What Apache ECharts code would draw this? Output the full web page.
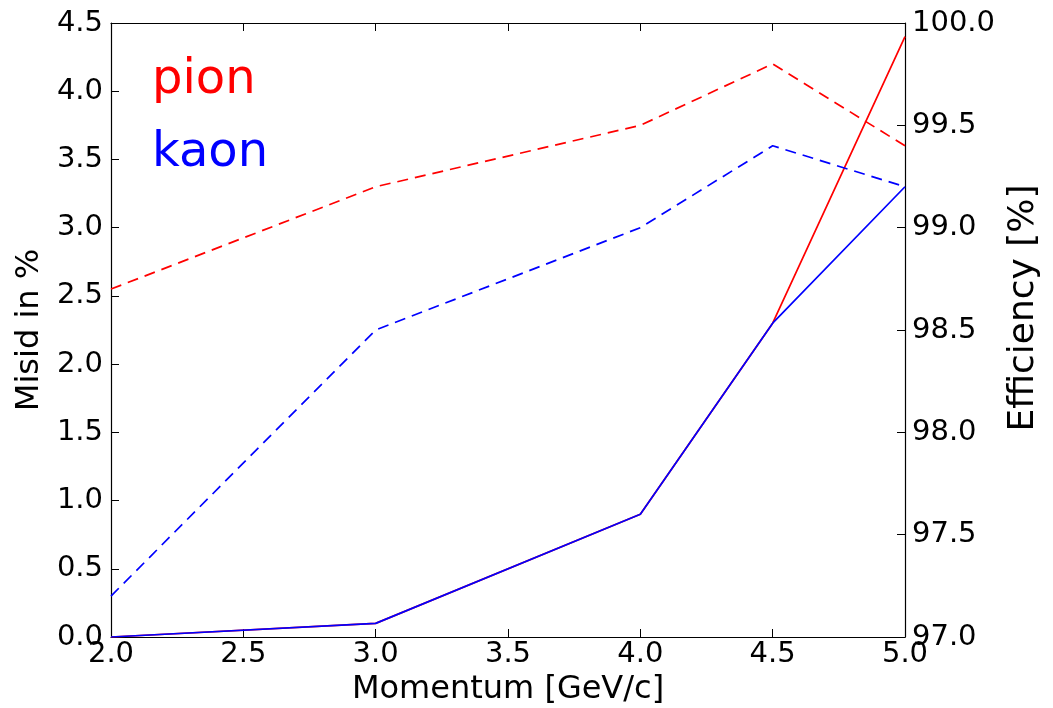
<!DOCTYPE html>
<html>
<head>
<meta charset="utf-8">
<script src="https://cdn.jsdelivr.net/npm/echarts@6/dist/echarts.min.js"></script>
<style>
  html, body { margin: 0; padding: 0; background: #fff; }
  #chart { width: 1053px; height: 708px; }
</style>
</head>
<body>
<div id="chart"></div>
<script>
// momentum points [GeV/c]
const momentum = [2.0, 3.0, 4.0, 4.5, 5.0]
// misid in % (left axis)
const pionMisid = [0.0, 0.1, 0.9, 2.3, 4.4]
const kaonMisid = [0.0, 0.1, 0.9, 2.3, 3.3]
// efficiency in % (right axis)
const pionEff = [98.7, 99.2, 99.5, 99.8, 99.4]
const kaonEff = [97.2, 98.5, 99.0, 99.4, 99.2]

const font = 'DejaVu Sans, sans-serif'
const pairs = (ys) => momentum.map((x, i) => [x, ys[i]])

const chart = echarts.init(document.getElementById('chart'))

const tickLabel = { color: '#000', fontSize: 29, fontFamily: font, formatter: (v) => v.toFixed(1) }
const axisLine = { show: true, lineStyle: { color: '#000', width: 1.2 } }
const tick = { show: true, inside: true, length: 8, lineStyle: { color: '#000', width: 1 } }

chart.setOption({
  animation: false,
  grid: { left: 111, right: 148, top: 23, bottom: 71, outerBoundsMode: 'none' },
  xAxis: [
    {
      type: 'value', min: 2, max: 5, interval: 0.5, position: 'bottom',
      name: 'Momentum [GeV/c]', nameLocation: 'middle', nameGap: 33,
      nameTextStyle: { color: '#000', fontSize: 32, fontFamily: font },
      axisLine, axisTick: tick, splitLine: { show: false },
      axisLabel: { ...tickLabel, margin: 3 },
    },
    {
      type: 'value', min: 2, max: 5, interval: 0.5, position: 'top',
      axisLine, axisTick: tick, splitLine: { show: false },
      axisLabel: { show: false },
    },
  ],
  yAxis: [
    {
      type: 'value', min: 0, max: 4.5, interval: 0.5, position: 'left',
      name: 'Misid in %', nameLocation: 'middle', nameGap: 55, nameRotate: 90,
      nameTextStyle: { color: '#000', fontSize: 32, fontFamily: font },
      axisLine, axisTick: tick, splitLine: { show: false },
      axisLabel: { ...tickLabel, margin: 8 },
    },
    {
      type: 'value', min: 97, max: 100, interval: 0.5, position: 'right',
      name: 'Efficiency [%]', nameLocation: 'middle', nameGap: 93, nameRotate: 90,
      nameTextStyle: { color: '#000', fontSize: 36, fontFamily: font, padding: [0, 0, 0, 44] },
      axisLine, axisTick: tick, splitLine: { show: false },
      axisLabel: { ...tickLabel, margin: 7 },
    },
  ],
  graphic: [
    { type: 'text', left: 152, top: 57, style: { text: 'pion', fill: '#ff0000', font: `48px ${font}` } },
    { type: 'text', left: 152, top: 130, style: { text: 'kaon', fill: '#0000ff', font: `48px ${font}` } },
  ],
  series: [
    {
      type: 'line', yAxisIndex: 0, data: pairs(pionMisid), showSymbol: false,
      lineStyle: { color: '#ff0000', width: 1.7 }, z: 2,
    },
    {
      type: 'line', yAxisIndex: 1, data: pairs(pionEff), showSymbol: false,
      lineStyle: { color: '#ff0000', width: 1.7, type: [11, 7] }, z: 2,
    },
    {
      type: 'line', yAxisIndex: 0, data: pairs(kaonMisid), showSymbol: false,
      lineStyle: { color: '#0000ff', width: 1.7 }, z: 3,
    },
    {
      type: 'line', yAxisIndex: 1, data: pairs(kaonEff), showSymbol: false,
      lineStyle: { color: '#0000ff', width: 1.7, type: [11, 7] }, z: 3,
    },
  ],
})
</script>
</body>
</html>
